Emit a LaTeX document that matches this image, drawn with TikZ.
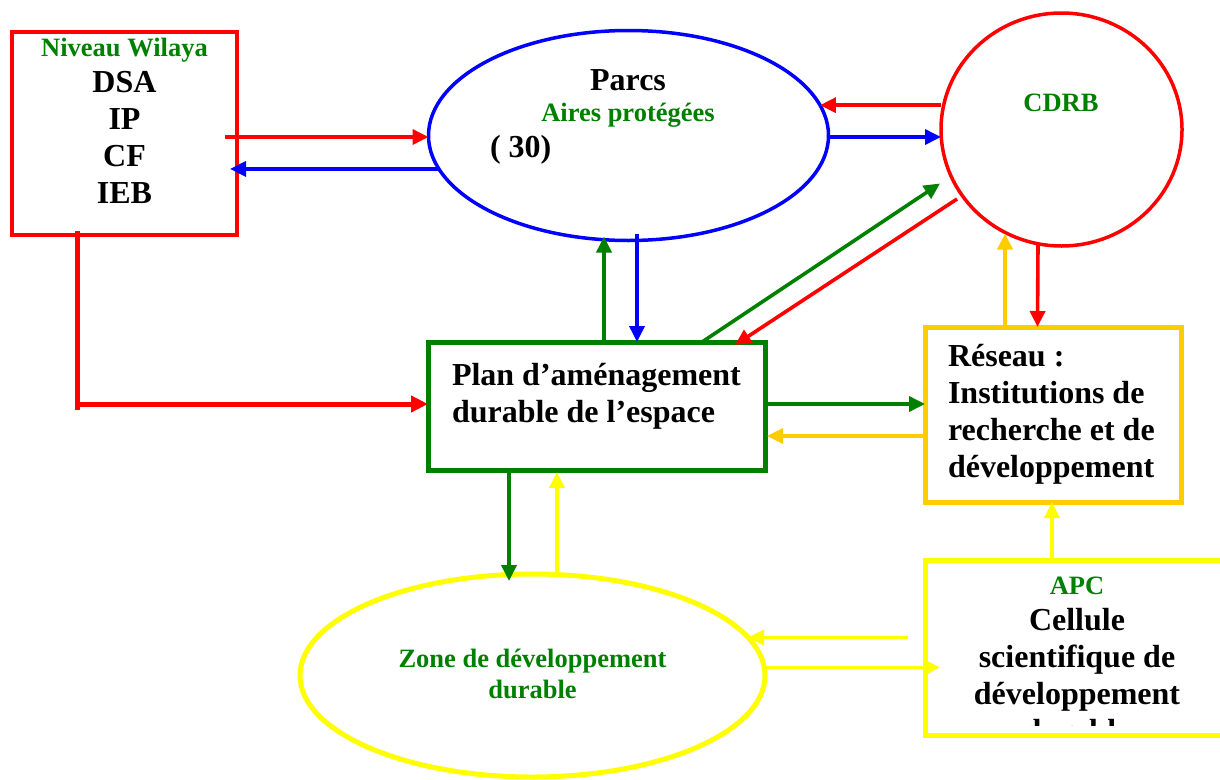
\documentclass[tikz,border=0pt]{standalone}
\usepackage{fontspec}
\setmainfont{Liberation Serif}
\usetikzlibrary{arrows.meta,calc,shapes.geometric}

\definecolor{wred}{HTML}{FF0000}
\definecolor{wblue}{HTML}{0000FF}
\definecolor{wgreen}{HTML}{008000}
\definecolor{wgold}{HTML}{FFCC00}
\definecolor{wyellow}{HTML}{FFFF00}

\newcommand\greenline[1]{{\fontsize{26.5}{30.5}\selectfont\color{wgreen}#1}}

\tikzset{
  every node/.style={inner sep=0pt, outer sep=0pt},
  bigtext/.style={font=\fontsize{32}{36.7}\selectfont\bfseries},
  smalltext/.style={font=\fontsize{26.5}{30.5}\selectfont\bfseries, text=wgreen},
  boxshape/.style={draw, rectangle, line width=#1},
  ovalshape/.style={draw, ellipse, line width=#1},
  conn/.style={line width=3.6pt, -{Triangle[length=16pt,width=15pt]}},
}

\begin{document}
\begin{tikzpicture}[x=1pt, y=-1pt]
\useasboundingbox (0,0) rectangle (1220,779);
\fill[white] (0,0) rectangle (1220,779);
\clip (0,0) rectangle (1220,779);

% ---- shapes ----
\node[boxshape=4pt, draw=wred, minimum width=225pt, minimum height=203pt] (wil) at (124.5,133.5) {};
\node[ovalshape=3.5pt, draw=wblue, minimum width=400pt, minimum height=210pt] (parcs) at (628.5,135.5) {};
\node[ovalshape=3.5pt, draw=wred, minimum width=241pt, minimum height=233pt] (cdrb) at (1061.5,129.5) {};
\node[boxshape=5pt, draw=wgreen, minimum width=337pt, minimum height=128pt] (plan) at (596.5,406) {};
\node[boxshape=5pt, draw=wgold, minimum width=256pt, minimum height=175pt] (reseau) at (1053,414.5) {};
\node[boxshape=5pt, draw=wyellow, minimum width=304pt, minimum height=175pt] (apc) at (1077,647.5) {};
\node[ovalshape=5pt, draw=wyellow, minimum width=465pt, minimum height=203pt] (zone) at (532.5,675.5) {};

% ---- texts (multi-line nodes: base anchor sits on the last line) ----
\node[bigtext, align=center, anchor=base] (wiltext) at (124.5,203)
  {\greenline{Niveau Wilaya}\\DSA\\IP\\CF\\IEB};
\node[bigtext, anchor=base] (parcstitle) at (628,90) {Parcs};
\node[smalltext, anchor=base] (aires) at (628,121) {Aires protégées};
\node[bigtext, anchor=base west] (trente) at (490,157) {( 30)};
\node[smalltext, anchor=base] (cdrbtext) at (1061,111) {CDRB};
\node[bigtext, align=left, anchor=base west] (plantext) at (452,422)
  {Plan d’aménagement\\durable de l’espace};
\node[bigtext, align=left, anchor=base west] (reseautext) at (948,477)
  {Réseau :\\Institutions de\\recherche et de\\développement};
\node[smalltext, align=center, anchor=base] (zonetext) at (532.5,698)
  {Zone de développement\\durable};
\begin{scope}
  % the text frame of the cell stops short of the border
  \clip ($(apc.north west)+(2.5,2.5)$) rectangle (1220,725);
  \node[bigtext, align=center, anchor=base] (apctext) at (1077,741)
    {\greenline{APC}\\Cellule\\scientifique de\\développement\\durable};
\end{scope}
\draw[wyellow, line width=5pt] (apc.south west) rectangle (apc.north east);

% ---- connectors ----
% Wilaya <-> Parcs
\draw[conn, wred] ($(wil.east |- parcs.west)+(-12,1.5)$) -- ($(parcs.west)+(0,1.5)$);
\draw[conn, wblue] (parcs.190) -- ($(wil.east |- parcs.190)+(-7,0)$);
% CDRB <-> Parcs
\draw[conn, wred] (cdrb.west |- parcs.9) -- (parcs.9);
\draw[conn, wblue] ($(parcs.east)+(0,1.5)$) -- ($(cdrb.west |- parcs.east)+(0,1.5)$);
% Plan <-> CDRB
\draw[conn, wgreen] ($(plan.north)+(105.5,0)$) -- ($(cdrb.center)+(-121.5,54)$);
\draw[conn, wred] ($(cdrb.center)+(-104.5,69.5)$) -- ($(plan.north)+(138.5,3)$);
% Plan <-> Parcs
\coordinate (pg) at ($(plan.north)+(7.5,0)$);
\coordinate (pb) at ($(plan.north)+(40.5,0)$);
\draw[conn, wgreen] (pg) -- ($(pg |- parcs.south)+(0,-4)$);
\draw[conn, wblue] ($(pb |- parcs.south)+(0,-7)$) -- (pb);
% Wilaya -> Plan
\coordinate (elbow) at ($(wil.south west)+(65,169)$);
\draw[wred, line width=5pt] ($(wil.south west)+(65,-4)$) -- ($(elbow)+(0,6)$);
\draw[wred, line width=5pt, -{Triangle[length=17pt,width=16pt]}] (elbow) -- (plan.west |- elbow);
% Plan <-> Reseau
\draw[conn, wgreen] ($(plan.east)+(0,-2)$) -- ($(reseau.west |- plan.east)+(0,-2)$);
\draw[conn, wgold] ($(reseau.west |- plan.east)+(0,30)$) -- ($(plan.east)+(2,30)$);
% Reseau <-> CDRB
\draw[conn, wgold] ($(reseau.north)+(-48,0)$) -- ($(cdrb.center)+(-56.5,104)$);
\draw[conn, wred] ($(cdrb.center)+(-23.5,114)$) -- ($(reseau.north)+(-15.5,0)$);
% APC -> Reseau
\coordinate (ar) at ($(apc.north)+(-25,0)$);
\draw[conn, wyellow] (ar) -- (ar |- reseau.south);
% APC <-> Zone
\draw[conn, wyellow] ($(apc.west |- zone.10.5)+(-17,0)$) -- (zone.10.5);
\draw[conn, wyellow] (zone.2) -- ($(apc.west |- zone.2)+(15,0)$);
% Plan <-> Zone
\coordinate (pz) at ($(plan.south)+(-87.5,0)$);
\coordinate (zp) at ($(plan.south)+(-39.5,0)$);
\draw[conn, wgreen] (pz) -- ($(pz |- zone.north)+(0,7)$);
\draw[conn, wyellow] (zp |- zone.north) -- ($(zp)+(0,2)$);
\end{tikzpicture}
\end{document}
